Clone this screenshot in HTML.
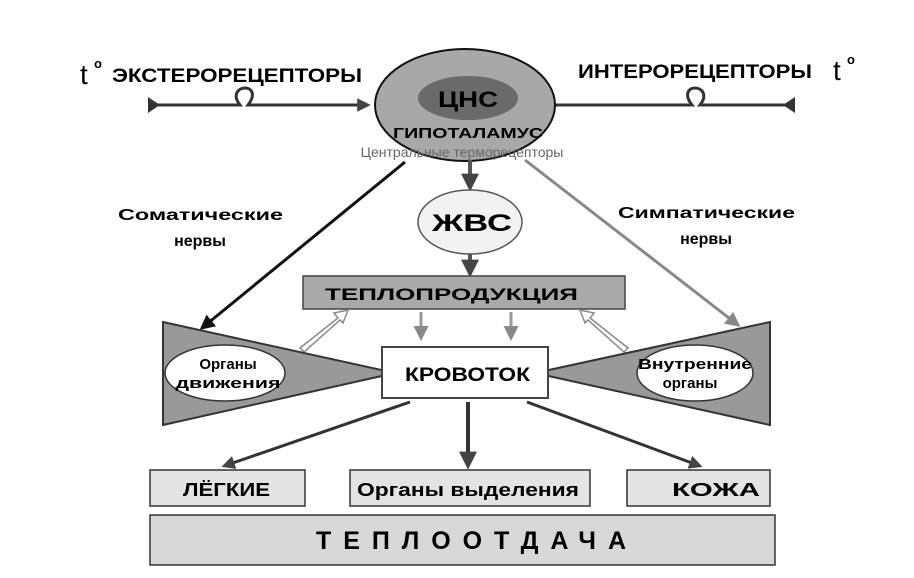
<!DOCTYPE html>
<html><head><meta charset="utf-8"><style>
html,body{margin:0;padding:0;background:#fff;}
svg{display:block;}
text{font-family:"Liberation Sans",sans-serif;font-weight:bold;}
</style></head><body>
<svg width="914" height="578" viewBox="0 0 914 578" xmlns="http://www.w3.org/2000/svg">
<defs>
<marker id="ab" viewBox="0 0 10 10" refX="8" refY="5" markerWidth="5" markerHeight="5" orient="auto"><path d="M0,0L10,5L0,10z" fill="#111"/></marker>
<marker id="ad" viewBox="0 0 10 10" refX="8" refY="5" markerWidth="4.5" markerHeight="4.5" orient="auto"><path d="M0,0L10,5L0,10z" fill="#444"/></marker>
<marker id="ag" viewBox="0 0 10 10" refX="8" refY="5" markerWidth="5" markerHeight="5" orient="auto"><path d="M0,0L10,5L0,10z" fill="#888"/></marker>
</defs>
<!-- receptor labels -->
<text x="80" y="84" font-size="28" style="font-weight:normal">t</text><text x="94" y="68" font-size="13">o</text>
<text x="112" y="82" font-size="19" textLength="250" lengthAdjust="spacingAndGlyphs">ЭКСТЕРОРЕЦЕПТОРЫ</text>
<text x="578" y="78" font-size="19" textLength="234" lengthAdjust="spacingAndGlyphs">ИНТЕРОРЕЦЕПТОРЫ</text>
<text x="833" y="80" font-size="28" style="font-weight:normal">t</text><text x="847" y="64" font-size="13">o</text>
<!-- horizontal nerve arrows -->
<path d="M148,105 L240,105 C232,95 238,88 245,88 C252,88 256,95 248,105 L368,105" stroke="#333" stroke-width="3" fill="none" marker-end="url(#ad)"/>
<path d="M148,97 L148,113 L160,105z" fill="#333"/>
<path d="M795,105 L700,105 C708,95 702,88 695,88 C688,88 684,95 692,105 L534,105" stroke="#333" stroke-width="3" fill="none" marker-end="url(#ad)"/>
<path d="M795,97 L795,113 L783,105z" fill="#333"/>
<!-- CNS circle -->
<ellipse cx="465" cy="105" rx="90" ry="56" fill="#a8a8a8" stroke="#111" stroke-width="2"/>
<ellipse cx="468" cy="98" rx="50" ry="22" fill="#6a6a6a"/>
<text x="468" y="107" font-size="22" text-anchor="middle" textLength="60" lengthAdjust="spacingAndGlyphs">ЦНС</text>
<text x="468" y="138" font-size="15" text-anchor="middle" textLength="150" lengthAdjust="spacingAndGlyphs">ГИПОТАЛАМУС</text>
<text x="462" y="157" font-size="14" text-anchor="middle" fill="#666" style="font-weight:normal">Центральные терморецепторы</text>
<!-- nerve lines -->
<line x1="405" y1="162" x2="202" y2="328" stroke="#111" stroke-width="3" marker-end="url(#ab)"/>
<line x1="525" y1="160" x2="738" y2="325" stroke="#888" stroke-width="3" marker-end="url(#ag)"/>
<text x="118" y="220" font-size="16" textLength="165" lengthAdjust="spacingAndGlyphs">Соматические</text>
<text x="200" y="246" font-size="16" text-anchor="middle">нервы</text>
<text x="618" y="218" font-size="16" textLength="177" lengthAdjust="spacingAndGlyphs">Симпатические</text>
<text x="706" y="244" font-size="16" text-anchor="middle">нервы</text>
<!-- ЖВС -->
<line x1="470" y1="160" x2="470" y2="188" stroke="#555" stroke-width="4" marker-end="url(#ad)"/>
<ellipse cx="470" cy="222" rx="52" ry="32" fill="#f2f2f2" stroke="#555" stroke-width="1.5"/>
<text x="472" y="231" font-size="24" text-anchor="middle" textLength="80" lengthAdjust="spacingAndGlyphs">ЖВС</text>
<line x1="470" y1="254" x2="470" y2="274" stroke="#555" stroke-width="4" marker-end="url(#ad)"/>
<!-- Теплопродукция -->
<rect x="303" y="276" width="322" height="33" fill="#a9a9a9" stroke="#444" stroke-width="1.5"/>
<text x="325" y="300" font-size="17" textLength="253" lengthAdjust="spacingAndGlyphs">ТЕПЛОПРОДУКЦИЯ</text>
<line x1="421" y1="312" x2="421" y2="338" stroke="#999" stroke-width="3" marker-end="url(#ag)"/>
<line x1="511" y1="312" x2="511" y2="338" stroke="#999" stroke-width="3" marker-end="url(#ag)"/>
<!-- hollow arrows -->
<path d="M300,348 L338,318 L334,313 L348,310 L343,323 L340,320 L304,352z" fill="#fff" stroke="#888" stroke-width="1.5"/>
<path d="M628,348 L590,318 L594,313 L580,310 L585,323 L588,320 L624,352z" fill="#fff" stroke="#888" stroke-width="1.5"/>
<!-- triangles -->
<polygon points="163,322 163,425 395,373" fill="#999" stroke="#333" stroke-width="2"/>
<polygon points="770,322 770,425 535,373" fill="#999" stroke="#333" stroke-width="2"/>
<ellipse cx="225" cy="373" rx="60" ry="28" fill="#fff" stroke="#333" stroke-width="1.5"/>
<text x="228" y="369" font-size="15" text-anchor="middle">Органы</text>
<text x="228" y="388" font-size="15" text-anchor="middle" textLength="105" lengthAdjust="spacingAndGlyphs">движения</text>
<ellipse cx="695" cy="373" rx="58" ry="28" fill="#fff" stroke="#333" stroke-width="1.5"/>
<text x="695" y="369" font-size="15" text-anchor="middle" textLength="114" lengthAdjust="spacingAndGlyphs">Внутренние</text>
<text x="690" y="388" font-size="15" text-anchor="middle">органы</text>
<!-- Кровоток -->
<rect x="382" y="347" width="166" height="51" fill="#fff" stroke="#444" stroke-width="2"/>
<text x="405" y="381" font-size="19" textLength="125" lengthAdjust="spacingAndGlyphs">КРОВОТОК</text>
<!-- bottom arrows -->
<line x1="410" y1="402" x2="224" y2="466" stroke="#333" stroke-width="3" marker-end="url(#ad)"/>
<line x1="468" y1="402" x2="468" y2="466" stroke="#333" stroke-width="4" marker-end="url(#ad)"/>
<line x1="527" y1="402" x2="700" y2="466" stroke="#333" stroke-width="3" marker-end="url(#ad)"/>
<!-- bottom boxes -->
<rect x="150" y="470" width="155" height="36" fill="#e4e4e4" stroke="#333" stroke-width="1.5"/>
<text x="183" y="496" font-size="18" textLength="87" lengthAdjust="spacingAndGlyphs">ЛЁГКИЕ</text>
<rect x="350" y="470" width="240" height="36" fill="#e4e4e4" stroke="#333" stroke-width="1.5"/>
<text x="357" y="496" font-size="18" textLength="222" lengthAdjust="spacingAndGlyphs">Органы выделения</text>
<rect x="627" y="470" width="143" height="36" fill="#e4e4e4" stroke="#333" stroke-width="1.5"/>
<text x="672" y="496" font-size="18" textLength="88" lengthAdjust="spacingAndGlyphs">КОЖА</text>
<rect x="150" y="515" width="625" height="50" fill="#d8d8d8" stroke="#333" stroke-width="1.5"/>
<text x="316" y="549" font-size="25" textLength="310" lengthAdjust="spacing">ТЕПЛООТДАЧА</text>
</svg>
</body></html>
